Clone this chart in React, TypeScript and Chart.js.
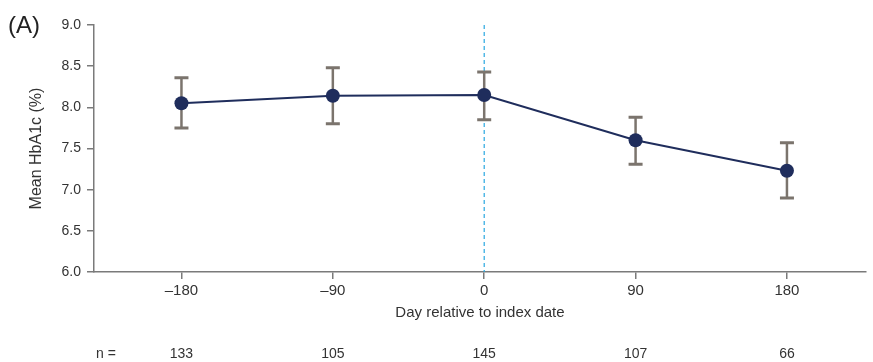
import React, { useEffect, useRef } from "react";
import { Chart, registerables } from "chart.js";
Chart.register(...registerables);

const days = [-180, -90, 0, 90, 180];
const meanHbA1c = [8.05, 8.14, 8.15, 7.6, 7.23];
const upper = [8.36, 8.48, 8.43, 7.88, 7.57];
const lower = [7.75, 7.8, 7.85, 7.31, 6.9];
const nValues = [133, 105, 145, 107, 66];
const yTicks = [6.0, 6.5, 7.0, 7.5, 8.0, 8.5, 9.0];

const FONT = "'Liberation Sans', Arial, sans-serif";
const TEXT = "#333333";
const AXIS = "#7a7a7a";

const fmtDay = (v: number) => (v < 0 ? "\u2013" + Math.abs(v) : String(v));

const extrasPlugin = {
  id: "extras",
  beforeDatasetsDraw(chart: any) {
    const { ctx, chartArea, scales } = chart;
    const x = scales.x, y = scales.y;
    ctx.save();
    ctx.strokeStyle = "#2aa8e0";
    ctx.lineWidth = 1.2;
    ctx.setLineDash([4, 3]);
    const x0 = x.getPixelForValue(0);
    ctx.beginPath();
    ctx.moveTo(x0, chartArea.top);
    ctx.lineTo(x0, chartArea.bottom);
    ctx.stroke();
    ctx.setLineDash([]);
    ctx.strokeStyle = "#7b746d";
    ctx.lineWidth = 2.5;
    days.forEach((d, i) => {
      const px = x.getPixelForValue(d);
      const pt = y.getPixelForValue(upper[i]);
      const pb = y.getPixelForValue(lower[i]);
      ctx.beginPath();
      ctx.moveTo(px, pt);
      ctx.lineTo(px, pb);
      ctx.stroke();
      ctx.lineWidth = 3;
      ctx.beginPath();
      ctx.moveTo(px - 7, pt);
      ctx.lineTo(px + 7, pt);
      ctx.moveTo(px - 7, pb);
      ctx.lineTo(px + 7, pb);
      ctx.stroke();
      ctx.lineWidth = 2.5;
    });
    ctx.restore();
  },
  afterDraw(chart: any) {
    const { ctx, scales } = chart;
    const x = scales.x;
    ctx.save();
    ctx.fillStyle = TEXT;
    ctx.textBaseline = "middle";
    ctx.font = `14px ${FONT}`;
    ctx.textAlign = "left";
    ctx.fillText("n =", 96, 354);
    ctx.textAlign = "center";
    days.forEach((d, i) => {
      ctx.fillText(String(nValues[i]), x.getPixelForValue(d), 354);
    });
    ctx.font = `24px ${FONT}`;
    ctx.textAlign = "left";
    ctx.textBaseline = "alphabetic";
    ctx.fillStyle = "#222";
    ctx.fillText("(A)", 8, 33);
    ctx.restore();
  },
};

export default function App() {
  const ref = useRef<HTMLCanvasElement>(null);
  useEffect(() => {
    if (!ref.current) return;
    const chart = new Chart(ref.current, {
      type: "line",
      data: {
        datasets: [
          {
            data: days.map((d, i) => ({ x: d, y: meanHbA1c[i] })),
            borderColor: "#1f2d5c",
            backgroundColor: "#1f2d5c",
            borderWidth: 2,
            pointRadius: 7,
            pointHoverRadius: 7,
            pointBorderWidth: 0,
          },
        ],
      },
      options: {
        animation: false,
        responsive: false,
        maintainAspectRatio: false,
        layout: { padding: { left: 0, right: 5, top: 25, bottom: 40 } },
        plugins: { legend: { display: false }, tooltip: { enabled: false } },
        scales: {
          x: {
            type: "linear",
            min: -232,
            max: 227,
            afterBuildTicks: (s: any) => {
              s.ticks = days.map((v) => ({ value: v }));
            },
            afterFit: (s: any) => {
              s.height = 50;
            },
            ticks: {
              callback: (v: any) => fmtDay(Number(v)),
              color: TEXT,
              font: { family: FONT, size: 15 },
              padding: 3,
              maxRotation: 0,
            },
            grid: { drawOnChartArea: false, drawTicks: true, tickLength: 7, color: AXIS, lineWidth: 1.5 },
            border: { color: AXIS, width: 1.5 },
            title: {
              display: true,
              text: "Day relative to index date",
              color: TEXT,
              font: { family: FONT, size: 15 },
              padding: { top: 0, bottom: 0 },
            },
          },
          y: {
            type: "linear",
            min: 6,
            max: 9,
            afterBuildTicks: (s: any) => {
              s.ticks = yTicks.map((v) => ({ value: v }));
            },
            afterFit: (s: any) => {
              s.width = 94;
            },
            ticks: {
              callback: (v: any) => Number(v).toFixed(1),
              color: TEXT,
              font: { family: FONT, size: 14 },
              padding: 6,
            },
            grid: { drawOnChartArea: false, drawTicks: true, tickLength: 7, color: AXIS, lineWidth: 1.5 },
            border: { color: AXIS, width: 1.5 },
            title: {
              display: true,
              text: "Mean HbA1c (%)",
              color: TEXT,
              font: { family: FONT, size: 16 },
              padding: { top: 27, bottom: 0 },
            },
          },
        },
      },
      plugins: [extrasPlugin],
    } as any);
    return () => chart.destroy();
  }, []);
  return (
    <div style={{ position: "absolute", left: 0, top: 0, width: 873, height: 362 }}>
      <canvas ref={ref} width={873} height={362} style={{ width: 873, height: 362, display: "block" }} />
    </div>
  );
}
